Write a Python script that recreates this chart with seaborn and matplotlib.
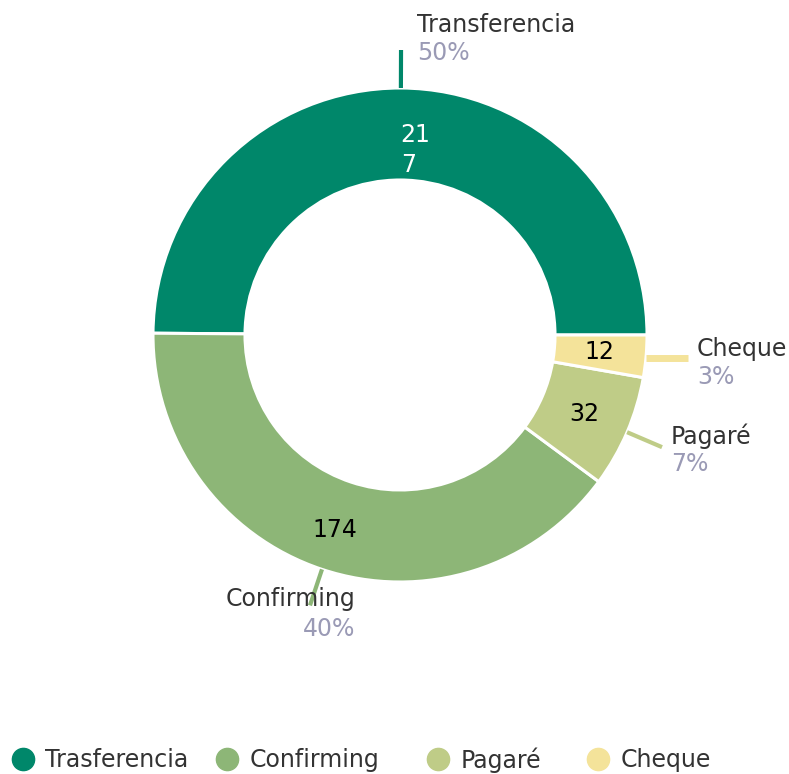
import numpy as np
import seaborn as sns
import matplotlib.pyplot as plt
from matplotlib.lines import Line2D

# data
names = ['Transferencia', 'Confirming', 'Pagaré', 'Cheque']
legend_names = ['Trasferencia', 'Confirming', 'Pagaré', 'Cheque']
values = [217, 174, 32, 12]
value_text = ['21\n7', '174', '32', '12']
colors = ['#00876a', '#8db677', '#bfcc87', '#f4e39a']

sns.set_theme(style='white')
plt.rcParams['font.family'] = ['DejaVu Sans']

W, H = 789, 774
fig = plt.figure(figsize=(W / 100, H / 100), dpi=100)
ax = fig.add_axes([0, 0, 1, 1])

cx, cy = 400, H - 335
R = 247
ring = 92
fs = 17

wedges, _ = ax.pie(values, colors=colors, startangle=0, counterclock=True,
                   radius=R, center=(cx, cy), frame=True,
                   wedgeprops=dict(width=ring, edgecolor='white', linewidth=2.2))
ax.set_xlim(0, W)
ax.set_ylim(0, H)
ax.set_aspect('equal')
ax.axis('off')

total = sum(values)
# per label: (dx, dy name, dy pct, ha) offsets from the leader line end, pixels
lab_off = [(16, 25, -3, 'left'), (45, 6, -24, 'right'), (9, 11, -17, 'left'), (9, 9, -19, 'left')]
flat = [False, False, False, True]
line_w = [3, 3, 3, 5]
val_r = [0.75, 0.83, 0.81, 0.81]

for i, w in enumerate(wedges):
    mid = np.deg2rad((w.theta1 + w.theta2) / 2)
    c, s = np.cos(mid), np.sin(mid)
    x0, y0 = cx + R * c, cy + R * s
    if flat[i]:
        x1, y1 = x0 + 42, y0 - 2
        y0 = y1
    else:
        x1, y1 = cx + (R + 38) * c, cy + (R + 38) * s
    ax.plot([x0, x1], [y0, y1], color=colors[i], lw=line_w[i], solid_capstyle='butt')
    dx, dn, dp, ha = lab_off[i]
    ax.text(x1 + dx, y1 + dn, names[i], ha=ha, va='center', fontsize=fs, color='#333333')
    pct = round(values[i] / total * 100)
    ax.text(x1 + dx, y1 + dp, f'{pct}%', ha=ha, va='center', fontsize=fs, color='#9a9ab5')

    vx, vy = cx + R * val_r[i] * c, cy + R * val_r[i] * s
    if i == 0:
        ax.text(vx, vy, value_text[i], ha='left', va='center', fontsize=fs,
                color='white', linespacing=1.3, multialignment='left')
    else:
        ax.text(vx, vy, value_text[i], ha='center', va='center', fontsize=fs, color='black')

# legend items sit at uneven spots in the original
leg_x = [11, 215, 426, 586]
for i, c in enumerate(colors):
    h = Line2D([0], [0], marker='o', linestyle='', markersize=16,
               markerfacecolor=c, markeredgecolor=c)
    leg = fig.legend([h], [legend_names[i]], loc='center left',
                     bbox_to_anchor=(leg_x[i] / W, 14 / H), frameon=False,
                     fontsize=fs, handlelength=1.0, handletextpad=0.45,
                     borderpad=0, borderaxespad=0, labelcolor='#333333')

fig.savefig('out.png', dpi=100)
